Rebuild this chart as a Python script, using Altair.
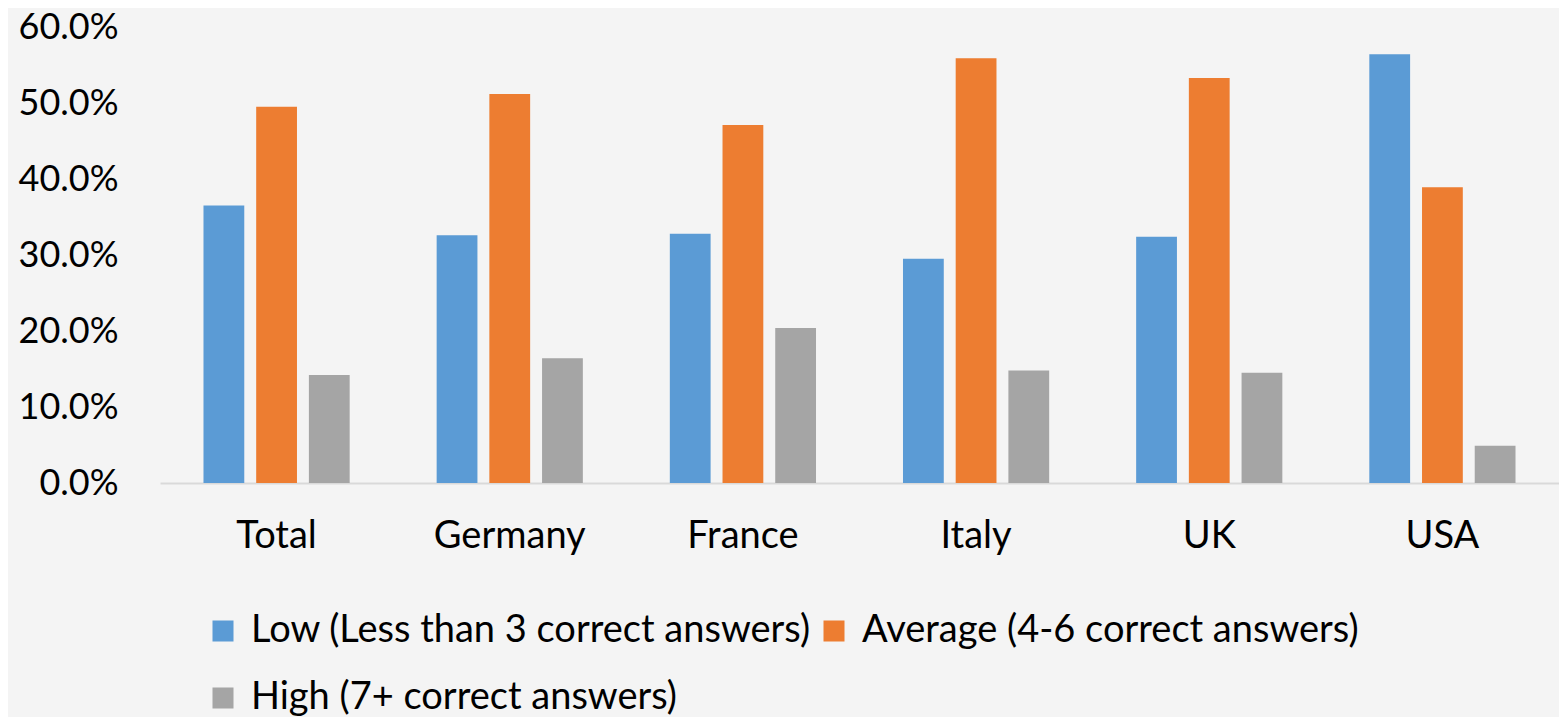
import altair as alt
import pandas as pd

categories = ["Total", "Germany", "France", "Italy", "UK", "USA"]
series = [
    "Low (Less than 3 correct answers)",
    "Average (4-6 correct answers)",
    "High (7+ correct answers)",
]
low = [0.365, 0.326, 0.328, 0.295, 0.324, 0.564]
average = [0.495, 0.512, 0.471, 0.559, 0.533, 0.389]
high = [0.142, 0.164, 0.204, 0.148, 0.145, 0.049]
colors = ["#5B9BD5", "#ED7D31", "#A5A5A5"]
y_ticks = [0.0, 0.1, 0.2, 0.3, 0.4, 0.5, 0.6]

rows = []
for s, vals in zip(series, [low, average, high]):
    for c, v in zip(categories, vals):
        rows.append({"country": c, "level": s, "value": v})
df = pd.DataFrame(rows)

FONT = "Lato"

chart = (
    alt.Chart(df)
    .mark_bar()
    .encode(
        x=alt.X(
            "country:N",
            sort=categories,
            title=None,
            scale=alt.Scale(paddingInner=0.373, paddingOuter=0.1865),
            axis=alt.Axis(
                labelAngle=0,
                ticks=False,
                grid=False,
                domainColor="#D9D9D9",
                domainWidth=2,
                labelFontSize=38,
                labelFont=FONT,
                labelColor="#000000",
                labelPadding=34,
            ),
        ),
        xOffset=alt.XOffset(
            "level:N",
            sort=series,
            scale=alt.Scale(paddingInner=0.226, paddingOuter=0),
        ),
        y=alt.Y(
            "value:Q",
            title=None,
            scale=alt.Scale(domain=[0, 0.6], nice=False),
            axis=alt.Axis(
                values=y_ticks,
                format=".1%",
                domain=False,
                ticks=False,
                grid=False,
                labelFontSize=36,
                labelFont=FONT,
                labelColor="#000000",
                labelPadding=42,
            ),
        ),
        color=alt.Color(
            "level:N",
            sort=series,
            scale=alt.Scale(domain=series, range=colors),
            legend=alt.Legend(
                title=None,
                orient="none",
                legendX=44,
                legendY=585,
                direction="horizontal",
                columns=2,
                symbolType="square",
                symbolSize=441,
                symbolStrokeWidth=0,
                labelFontSize=38,
                labelFont=FONT,
                labelColor="#000000",
                labelLimit=2000,
                labelOffset=9,
                rowPadding=29,
                columnPadding=4,
            ),
        ),
    )
    .properties(
        width=1399,
        height=456,
        autosize=alt.AutoSizeParams(type="none"),
        padding={"left": 152, "top": 19, "right": 0, "bottom": 234},
    )
    .configure(background="#F4F4F4")
    .configure_view(stroke=None)
)

chart.save("out.html", embed_options={"renderer": "svg", "actions": False})
